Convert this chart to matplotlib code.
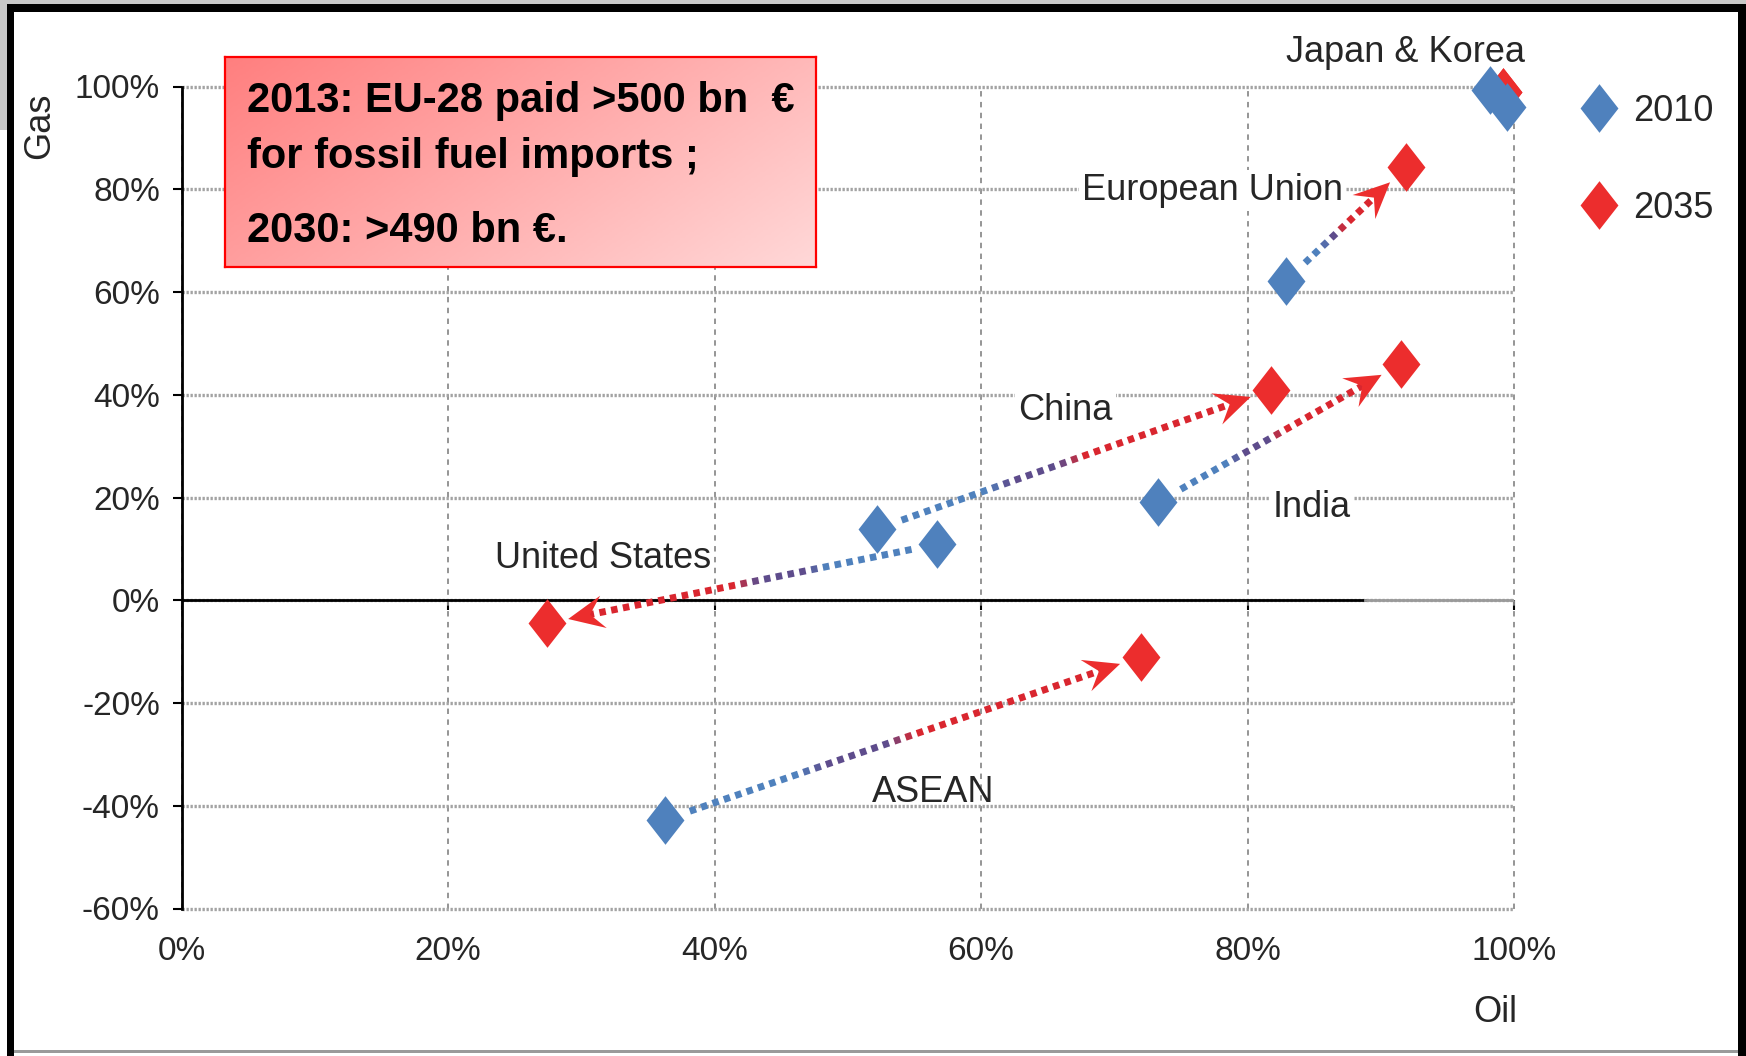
"""
Import dependency for oil and gas, 2010 vs 2035 (share of demand met by net imports).
Recreation of a slide chart with a red call-out box.
"""

import numpy as np
import matplotlib
matplotlib.use("Agg")
import matplotlib.pyplot as plt
from matplotlib import font_manager
from matplotlib.path import Path
from matplotlib.patches import Rectangle, Polygon
from matplotlib.lines import Line2D
from matplotlib.collections import LineCollection
from matplotlib.colors import LinearSegmentedColormap

# ---- data (percent) ----
regions = ["Japan", "Korea", "European Union", "China", "India", "United States", "ASEAN"]
oil_2010 = [98.2, 99.5, 82.9, 52.2, 73.3, 56.7, 36.3]
gas_2010 = [99.3, 96.1, 62.2, 13.9, 19.1, 10.9, -42.7]
oil_2035 = [99.2, 99.2, 91.9, 81.8, 91.5, 27.4, 72.0]
gas_2035 = [99.0, 99.0, 84.3, 41.0, 46.0, -4.5, -11.0]
arrow_regions = ["European Union", "China", "India", "United States", "ASEAN"]

x_ticks = [0, 20, 40, 60, 80, 100]
y_ticks = [-60, -40, -20, 0, 20, 40, 60, 80, 100]
series_labels = ["2010", "2035"]

callout = ["2013: EU-28 paid >500 bn  \u20ac", "for fossil fuel imports ;", "2030: >490 bn \u20ac."]

BLUE = "#4f81bd"
PURPLE = "#5e4c8c"
RED_LINE = "#d9262f"
RED = "#ec2d2d"
TXT = "#262626"

W, H = 1746, 1056


def fx(px):
    return px / W


def fy(py):
    return 1 - py / H


# pick a narrow face if present, the original uses a condensed look
names = {f.name for f in font_manager.fontManager.ttflist}
if "Liberation Sans Narrow" in names:
    LFONT, LSIZE = "Liberation Sans Narrow", 30
else:
    LFONT, LSIZE = "Liberation Sans", 26
BFONT = "Liberation Sans" if "Liberation Sans" in names else "DejaVu Sans"
FAM = [LFONT, "DejaVu Sans"]

# tall diamond marker
diamond = Path([(0, 1), (0.78, 0), (0, -1), (-0.78, 0), (0, 1)],
               [Path.MOVETO, Path.LINETO, Path.LINETO, Path.LINETO, Path.CLOSEPOLY])

fig = plt.figure(figsize=(W / 100, H / 100), dpi=100)
fig.patch.set_facecolor("white")

ax = fig.add_axes([fx(181.5), fy(908.5), fx(1514) - fx(181.5), fy(86.5) - fy(908.5)])
ax.set_xlim(0, 100)
ax.set_ylim(-60, 100)
for s in ["top", "right", "bottom"]:
    ax.spines[s].set_visible(False)
ax.spines["left"].set_linewidth(2.0)
ax.spines["left"].set_color("black")

ax.set_yticks(y_ticks)
ax.set_yticklabels([f"{v}%" for v in y_ticks], family=FAM, size=LSIZE - 2, color=TXT)
ax.tick_params(axis="y", direction="out", length=6.5, width=1.5, pad=9)
ax.set_xticks(x_ticks)
ax.set_xticklabels([f"{v}%" for v in x_ticks], family=FAM, size=LSIZE - 2, color=TXT)
ax.tick_params(axis="x", length=0, pad=20)

# grid: fine dotted horizontals, dashed verticals
ax.yaxis.grid(True, color="#a3a3a3", linestyle=(0, (0.7, 0.5)), linewidth=2.4)
ax.xaxis.grid(True, color="#8c8c8c", linestyle=(0, (3, 3)), linewidth=1.3)
for gl in ax.get_xgridlines() + ax.get_ygridlines():
    gl.set_clip_on(False)
ax.set_axisbelow(True)

# zero line with ticks hanging below it
ax.axhline(0, xmin=0, xmax=0.888, color="black", lw=2.0, zorder=2)
ax.axhline(0, xmin=0.888, xmax=1, color="#9a9a9a", lw=2.0, zorder=2)
ymin, ymax = ax.get_ylim()
sec = ax.secondary_xaxis((0 - ymin) / (ymax - ymin))
sec.set_xticks(x_ticks)
sec.set_xticklabels([])
sec.tick_params(direction="out", length=7, width=1.5, color="black")
sec.spines["bottom"].set_visible(False)

# ---- arrows: dotted gradient line + red stealth head ----
cmap = LinearSegmentedColormap.from_list(
    "imp", [(0, BLUE), (0.26, BLUE), (0.33, PURPLE), (0.48, PURPLE), (0.55, RED_LINE), (1, RED_LINE)])
SHRINK_A, SHRINK_B = 26, 22
HEAD_L, HEAD_W = 36, 33
DASH, GAP = 6.5, 5.5

inv = ax.transData.inverted()
for name in arrow_regions:
    i = regions.index(name)
    a = ax.transData.transform((oil_2010[i], gas_2010[i]))
    b = ax.transData.transform((oil_2035[i], gas_2035[i]))
    d = b - a
    u = d / np.hypot(*d)
    n = np.array([-u[1], u[0]])
    start = a + u * SHRINK_A
    tip = b - u * SHRINK_B
    base = tip - u * HEAD_L * 0.6
    total = np.hypot(*(base - start))
    segs, cols = [], []
    s = 0.0
    while s < total:
        e = min(s + DASH, total)
        p0 = inv.transform(start + u * s)
        p1 = inv.transform(start + u * e)
        segs.append([p0, p1])
        cols.append(cmap((s + e) / 2 / total))
        s += DASH + GAP
    ax.add_collection(LineCollection(segs, colors=cols, linewidths=5.0, capstyle="butt", zorder=3))
    head = [tip, tip - u * HEAD_L + n * HEAD_W / 2, tip - u * HEAD_L * 0.62, tip - u * HEAD_L - n * HEAD_W / 2]
    ax.add_patch(Polygon(inv.transform(np.array(head)), closed=True, facecolor=RED, edgecolor="none", zorder=4))

# ---- markers ----
MS = 35
ax.plot(oil_2035, gas_2035, linestyle="none", marker=diamond, markersize=MS,
        color=RED, markeredgewidth=0, clip_on=False, zorder=5)
ax.plot(oil_2010, gas_2010, linestyle="none", marker=diamond, markersize=MS,
        color=BLUE, markeredgewidth=0, clip_on=False, zorder=6)

# ---- region labels ----
lab = dict(family=FAM, size=LSIZE, color=TXT, va="baseline", ha="left", zorder=2.5)
box = dict(facecolor="white", edgecolor="none", pad=2)
ax.text(82.9, 104.8, "Japan & Korea", **lab)
ax.text(67.6, 77.9, "European Union", bbox=box, **lab)
ax.text(62.8, 35.1, "China", bbox=box, **lab)
ax.text(81.9, 16.3, "India", bbox=box, **lab)
ax.text(23.5, 6.3, "United States", **lab)
ax.text(51.8, -39.3, "ASEAN", **lab)

# axis titles
fig.text(fx(40), fy(126), "Gas", rotation=90, ha="center", va="center", family=FAM, size=LSIZE, color=TXT)
fig.text(fx(1495), fy(1013), "Oil", ha="center", va="center", family=FAM, size=LSIZE, color=TXT)

# ---- legend ----
handles = [Line2D([], [], linestyle="none", marker=diamond, markersize=MS, color=c, markeredgewidth=0)
           for c in (BLUE, RED)]
leg = ax.legend(handles, series_labels, loc="upper left", bbox_to_anchor=(fx(1581), fy(94)),
                bbox_transform=fig.transFigure, frameon=False, borderpad=0, borderaxespad=0,
                handlelength=1.0, handletextpad=0.45, labelspacing=1.72,
                prop=dict(family=FAM, size=LSIZE))
for t in leg.get_texts():
    t.set_color(TXT)

# ---- red call-out box with gradient fill ----
bx = fig.add_axes([fx(225), fy(267), fx(816) - fx(225), fy(57) - fy(267)])
gx, gy = np.meshgrid(np.linspace(0, 1, 200), np.linspace(0, 1, 80))
grad = (gx * 0.65 + gy * 0.35)
bx.imshow(grad, cmap=LinearSegmentedColormap.from_list("box", ["#ff7f7f", "#ffd8d8"]),
          aspect="auto", extent=(0, 1, 0, 1), origin="upper")
bx.set_xticks([])
bx.set_yticks([])
for sp in bx.spines.values():
    sp.set_color("#ff0000")
    sp.set_linewidth(1.6)
for txt, base in zip(callout, [111.7, 168, 241.7]):
    fig.text(fx(246.6), fy(base), txt, ha="left", va="baseline", family=[BFONT, "DejaVu Sans"],
             weight="bold", size=30, color="black", zorder=10)

# ---- slide frame ----
frame = [
    (0, 0, W, 4, "#c8c8c8"),
    (0, 0, 6.5, 130, "#c8c8c8"),
    (6.5, 4, W, 12, "black"),
    (6.5, 4, 13.5, H, "black"),
    (1738, 4, W, H, "black"),
    (13.5, 1050, 1738, 1053, "#9a9a9a"),
]
for x0, y0, x1, y1, c in frame:
    fig.patches.append(Rectangle((fx(x0), fy(y1)), fx(x1) - fx(x0), fy(y0) - fy(y1),
                                 transform=fig.transFigure, facecolor=c, edgecolor="none", zorder=20))

fig.savefig("out.png", dpi=100)
